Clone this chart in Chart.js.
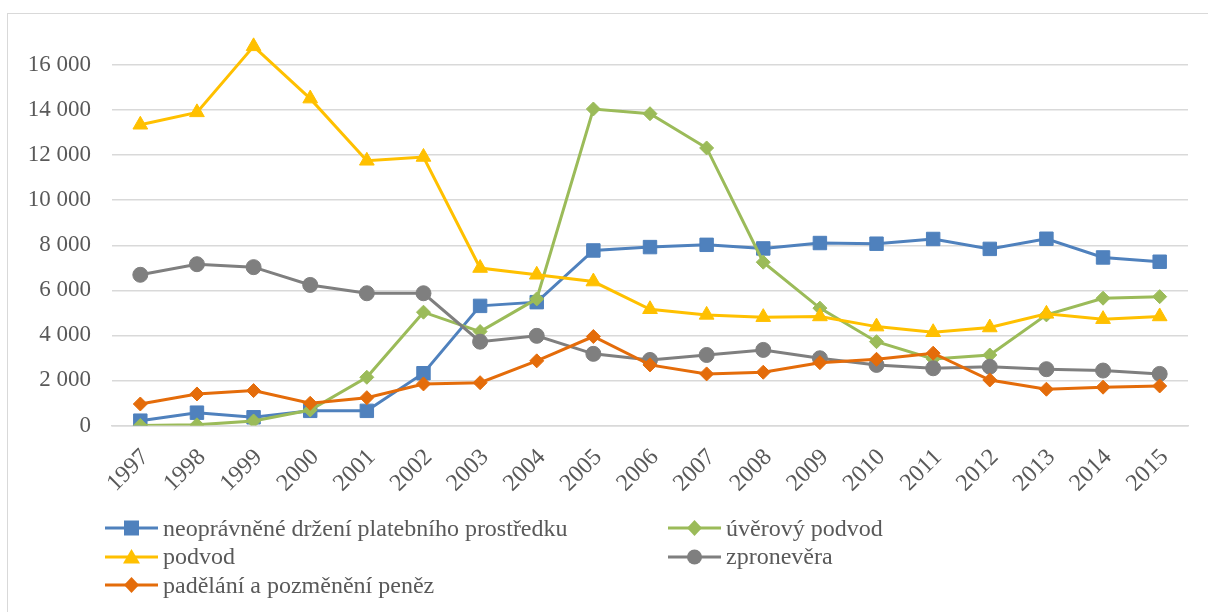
<!DOCTYPE html>
<html lang="cs">

<head>
    <meta charset="UTF-8" />
    <title>Trestné činy 1997–2015</title>
    <script src="https://cdn.jsdelivr.net/npm/chart.js"></script>
    <style>
        body {
            margin: 0;
            background: #fff;
            font-family: 'Liberation Serif', 'Times New Roman', serif;
        }

        #wrap {
            position: relative;
            width: 1208px;
            height: 612px;
            overflow: hidden;
        }

        #frame {
            position: absolute;
            left: 7px;
            top: 13px;
            width: 1260px;
            height: 700px;
            border: 1px solid #d9d9d9;
            box-sizing: border-box;
        }

        canvas {
            position: absolute;
            left: 0;
            top: 0;
        }

        .legend-col {
            position: absolute;
            top: 514px;
        }

        .legend-item {
            display: flex;
            align-items: center;
            height: 28.5px;
            font-size: 24px;
            color: #595959;
            white-space: nowrap;
        }

        .legend-item svg {
            margin-right: 5px;
        }
    </style>
</head>

<body>
    <div id="wrap">
        <div id="frame"></div>
        <canvas id="crimeChart" width="1208" height="612"></canvas>
        <div class="legend-col" id="legendLeft" style="left: 105px;"></div>
        <div class="legend-col" id="legendRight" style="left: 668px;"></div>
    </div>

    <script>
        const years = ['1997', '1998', '1999', '2000', '2001', '2002', '2003', '2004', '2005', '2006',
            '2007', '2008', '2009', '2010', '2011', '2012', '2013', '2014', '2015'];

        const neopravneneDrzeni = [215, 570, 365, 650, 650, 2320, 5310, 5475, 7770, 7920,
            8020, 7860, 8100, 8070, 8280, 7840, 8290, 7460, 7270];
        const uverovyPodvod = [0, 30, 200, 690, 2140, 5030, 4170, 5620, 14050, 13840,
            12320, 7250, 5210, 3720, 2955, 3130, 4910, 5650, 5720];
        const podvod = [13350, 13900, 16830, 14510, 11750, 11920, 6990, 6690, 6390, 5160,
            4910, 4810, 4840, 4390, 4140, 4350, 4955, 4720, 4840];
        const zpronevera = [6690, 7160, 7030, 6240, 5870, 5870, 3720, 3980, 3180, 2910,
            3130, 3355, 2985, 2690, 2540, 2610, 2500, 2440, 2290];
        const padelani = [955, 1400, 1550, 985, 1235, 1845, 1900, 2870, 3950, 2690,
            2290, 2365, 2790, 2940, 3210, 2020, 1610, 1700, 1755];

        const seriesNames = ['neoprávněné držení platebního prostředku', 'úvěrový podvod', 'podvod', 'zpronevěra', 'padělání a pozměnění peněz'];
        const seriesColors = ['#4f81bd', '#9bbb59', '#ffc000', '#7f7f7f', '#e46c0a'];
        const seriesShapes = ['rect', 'rectRot', 'triangle', 'circle', 'rectRot'];
        const seriesRadius = [9.5, 7, 8.5, 7.5, 7];
        const seriesData = [neopravneneDrzeni, uverovyPodvod, podvod, zpronevera, padelani];

        const yTicks = [0, 2000, 4000, 6000, 8000, 10000, 12000, 14000, 16000];

        function fmt(v) {
            return String(v).replace(/\B(?=(\d{3})+(?!\d))/g, ' ');
        }

        const datasets = seriesNames.map((name, i) => ({
            label: name,
            data: seriesData[i],
            borderColor: seriesColors[i],
            backgroundColor: seriesColors[i],
            borderWidth: 3,
            tension: 0,
            pointStyle: seriesShapes[i],
            pointRadius: seriesRadius[i],
            pointHoverRadius: seriesRadius[i],
            pointBackgroundColor: seriesColors[i],
            pointBorderColor: seriesColors[i],
            pointBorderWidth: 1,
            order: seriesNames.length - i
        }));

        const ctx = document.getElementById('crimeChart').getContext('2d');
        new Chart(ctx, {
            type: 'line',
            data: { labels: years, datasets: datasets },
            options: {
                responsive: false,
                animation: false,
                layout: { padding: { top: 20, right: 20, left: 0, bottom: 0 } },
                plugins: {
                    legend: { display: false },
                    tooltip: { enabled: false }
                },
                scales: {
                    x: {
                        offset: true,
                        grid: { display: false },
                        border: { color: '#d9d9d9', width: 1.5 },
                        ticks: {
                            color: '#595959',
                            font: { family: 'Liberation Serif', size: 24 },
                            minRotation: 45,
                            maxRotation: 45,
                            autoSkip: false,
                            padding: 10,
                            labelOffset: 5
                        },
                        afterFit: (scale) => {
                            scale.height = 186.5;
                            scale.paddingLeft = 0;
                            scale.paddingRight = 0;
                        }
                    },
                    y: {
                        min: 0,
                        max: 18000,
                        afterBuildTicks: (scale) => {
                            scale.ticks = yTicks.concat([18000]).map(v => ({ value: v }));
                        },
                        grid: {
                            color: (c) => c.tick && c.tick.value === 18000 ? 'rgba(0,0,0,0)' : '#d9d9d9',
                            lineWidth: 1.5,
                            drawTicks: false
                        },
                        border: { display: false },
                        ticks: {
                            color: '#595959',
                            font: { family: 'Liberation Serif', size: 23 },
                            padding: 21,
                            callback: (v) => v === 18000 ? '' : fmt(v)
                        },
                        afterFit: (scale) => {
                            scale.width = 112;
                            scale.paddingTop = 0;
                            scale.paddingBottom = 0;
                        }
                    }
                }
            }
        });

        // legend laid out in two columns like the original
        function markerSvg(i) {
            const c = seriesColors[i];
            const shape = seriesShapes[i];
            let m = '';
            if (shape === 'rect') m = `<rect x="19" y="3.5" width="15" height="15" fill="${c}"/>`;
            if (shape === 'rectRot') m = `<polygon points="26.5,3 34,11 26.5,19 19,11" fill="${c}"/>`;
            if (shape === 'triangle') m = `<polygon points="26.5,3 35,17.5 18,17.5" fill="${c}"/>`;
            if (shape === 'circle') m = `<circle cx="26.5" cy="11" r="7.5" fill="${c}"/>`;
            return `<svg width="53" height="22" viewBox="0 0 53 22"><line x1="0" y1="11" x2="53" y2="11" stroke="${c}" stroke-width="3"/>${m}</svg>`;
        }

        const left = document.getElementById('legendLeft');
        const right = document.getElementById('legendRight');
        seriesNames.forEach((name, i) => {
            const item = document.createElement('div');
            item.className = 'legend-item';
            item.innerHTML = markerSvg(i) + '<span>' + name + '</span>';
            (i % 2 === 0 ? left : right).appendChild(item);
        });
    </script>
</body>

</html>
